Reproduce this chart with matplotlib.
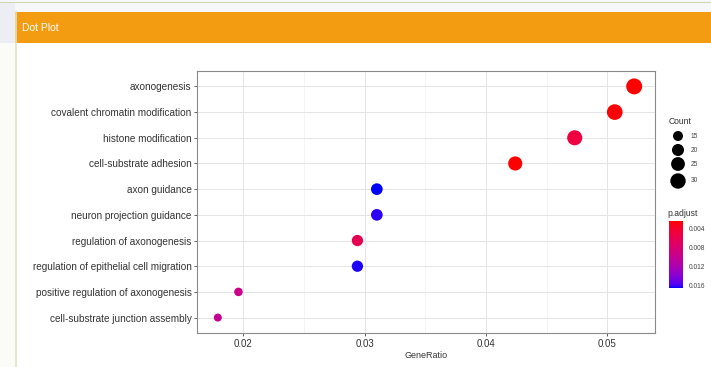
import numpy as np
import matplotlib
matplotlib.use("Agg")
import matplotlib.pyplot as plt
from matplotlib.colors import LinearSegmentedColormap, Normalize
from matplotlib.patches import Rectangle
from matplotlib.cm import ScalarMappable

plt.rcParams["font.family"] = ["Liberation Sans", "DejaVu Sans"]

# GO terms, listed bottom to top
terms = [
    "cell-substrate junction assembly",
    "positive regulation of axonogenesis",
    "regulation of epithelial cell migration",
    "regulation of axonogenesis",
    "neuron projection guidance",
    "axon guidance",
    "cell-substrate adhesion",
    "histone modification",
    "covalent chromatin modification",
    "axonogenesis",
]
gene_ratio = [0.0179, 0.0196, 0.0294, 0.0294, 0.0310, 0.0310, 0.0424, 0.0473, 0.0506, 0.0522]
counts = [11, 12, 18, 18, 19, 19, 26, 29, 31, 32]
p_adjust = [0.0099, 0.0094, 0.0164, 0.0060, 0.0163, 0.0166, 0.0024, 0.0050, 0.0025, 0.0023]

x_ticks = [0.02, 0.03, 0.04, 0.05]
x_tick_labels = ["0.02", "0.03", "0.04", "0.05"]
count_breaks = [15, 20, 25, 30]
p_breaks = [0.004, 0.008, 0.012, 0.016]
p_break_labels = ["0.004", "0.008", "0.012", "0.016"]

W, H, DPI = 711, 367, 100


# ---- red -> blue gradient interpolated in CIE Lab ----
def _srgb_to_lab(rgb):
    c = np.asarray(rgb, float)
    lin = np.where(c <= 0.04045, c / 12.92, ((c + 0.055) / 1.055) ** 2.4)
    M = np.array([[0.4124, 0.3576, 0.1805],
                  [0.2126, 0.7152, 0.0722],
                  [0.0193, 0.1192, 0.9505]])
    xyz = M @ lin / np.array([0.95047, 1.0, 1.08883])
    f = np.where(xyz > 0.008856, np.cbrt(xyz), 7.787 * xyz + 16 / 116)
    return np.array([116 * f[1] - 16, 500 * (f[0] - f[1]), 200 * (f[1] - f[2])])


def _lab_to_srgb(lab):
    L, a, b = lab
    fy = (L + 16) / 116
    fx = fy + a / 500
    fz = fy - b / 200
    f = np.array([fx, fy, fz])
    xyz = np.where(f ** 3 > 0.008856, f ** 3, (f - 16 / 116) / 7.787)
    xyz = xyz * np.array([0.95047, 1.0, 1.08883])
    Minv = np.array([[3.2406, -1.5372, -0.4986],
                     [-0.9689, 1.8758, 0.0415],
                     [0.0557, -0.2040, 1.0570]])
    lin = np.clip(Minv @ xyz, 0, 1)
    c = np.where(lin <= 0.0031308, 12.92 * lin, 1.055 * lin ** (1 / 2.4) - 0.055)
    return np.clip(c, 0, 1)


lab_lo = _srgb_to_lab([1, 0, 0])
lab_hi = _srgb_to_lab([0, 0, 1])
stops = [_lab_to_srgb(lab_lo + t * (lab_hi - lab_lo)) for t in np.linspace(0, 1, 64)]
cmap = LinearSegmentedColormap.from_list("red_blue_lab", stops)
norm = Normalize(vmin=min(p_adjust), vmax=max(p_adjust))

# point area (pt^2) scaled linearly with Count
S_MIN, S_MAX = 33.0, 132.0
cmin, cmax = min(counts), max(counts)


def count_to_area(c):
    return S_MIN + (np.asarray(c, float) - cmin) / (cmax - cmin) * (S_MAX - S_MIN)


def box(x0, y0, x1, y1):
    return [x0 / W, 1 - y1 / H, (x1 - x0) / W, (y1 - y0) / H]


fig = plt.figure(figsize=(W / DPI, H / DPI), dpi=DPI)
fig.patch.set_facecolor("#fbfbf8")

# page furniture: header bar and white card
bg = fig.add_axes([0, 0, 1, 1], zorder=0)
bg.set_xlim(0, W)
bg.set_ylim(H, 0)
bg.axis("off")
bg.add_patch(Rectangle((0, 0), W, 12, facecolor="#f6f7f9", edgecolor="none"))
bg.add_patch(Rectangle((0, 3), 15, 40, facecolor="#eceef3", edgecolor="none"))
bg.plot([0, W], [2, 2], color="#d4d4b8", lw=0.8)
bg.add_patch(Rectangle((15, 12), W - 15, 31, facecolor="#f39c12", edgecolor="none"))
bg.add_patch(Rectangle((15, 43), W - 15, H - 43, facecolor="white", edgecolor="none"))
bg.plot([16, 16], [12, H], color="#e2e0c4", lw=1.2)
bg.text(22, 28, "Dot Plot", color="white", fontsize=7.5, va="center", ha="left")

# main dot plot
ax = fig.add_axes(box(197, 71, 655, 333), zorder=2)
ax.set_facecolor("white")
ypos = np.arange(1, len(terms) + 1)
ax.scatter(gene_ratio, ypos, s=count_to_area(counts), c=p_adjust, cmap=cmap, norm=norm,
           edgecolors="none", zorder=3)

span = max(gene_ratio) - min(gene_ratio)
ax.set_xlim(min(gene_ratio) - 0.05 * span, max(gene_ratio) + 0.05 * span)
ax.set_ylim(0.4, len(terms) + 0.6)
ax.set_xticks(x_ticks)
ax.set_xticklabels(x_tick_labels)
ax.set_xticks([0.025, 0.035, 0.045], minor=True)
ax.set_yticks(ypos)
ax.set_yticklabels(terms)
ax.grid(True, which="major", color="#e4e4e4", lw=0.7, zorder=0)
ax.grid(True, which="minor", axis="x", color="#f0f0f0", lw=0.5, zorder=0)
ax.set_axisbelow(True)
for sp in ax.spines.values():
    sp.set_color("#8a8a8a")
    sp.set_linewidth(0.8)
ax.tick_params(axis="both", which="major", length=2.5, width=0.6, color="#444444",
               labelcolor="#333333", pad=1.5)
ax.tick_params(axis="y", labelsize=7.2)
ax.tick_params(axis="x", labelsize=7)
ax.tick_params(axis="x", which="minor", length=0)
ax.set_xlabel("GeneRatio", fontsize=6.5, color="#333333", labelpad=1.5)

# Count legend
bg.text(669, 121, "Count", fontsize=6.2, color="#333333", va="center", ha="left")
leg_y = [136, 150, 164, 181]
bg.scatter([678] * len(count_breaks), leg_y, s=count_to_area(count_breaks), c="black",
           edgecolors="none", zorder=3)
for yy, cb in zip(leg_y, count_breaks):
    bg.text(691, yy, str(cb), fontsize=4.8, color="#444444", va="center", ha="left")

# p.adjust colour bar
bg.text(667, 213, "p.adjust", fontsize=6.2, color="#333333", va="center", ha="left")
cax = fig.add_axes(box(669, 221, 683, 288), zorder=2)
cb = fig.colorbar(ScalarMappable(norm=norm, cmap=cmap), cax=cax)
cb.outline.set_visible(False)
cax.invert_yaxis()
cb.set_ticks(p_breaks)
cb.set_ticklabels(p_break_labels)
cax.tick_params(length=2, width=0.6, color="white", labelsize=4.8, labelcolor="#444444", pad=2)

fig.savefig("out.png", dpi=DPI, facecolor=fig.get_facecolor())
